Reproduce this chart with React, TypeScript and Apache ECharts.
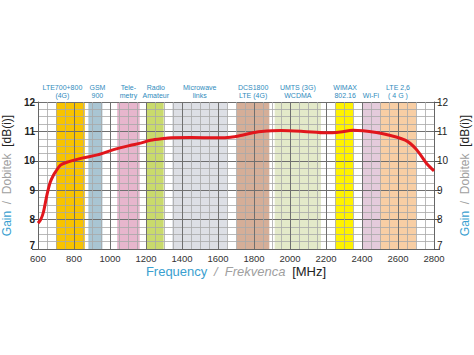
import React, { useEffect, useRef } from "react";
import * as echarts from "echarts";

const freqTicks = [600, 800, 1000, 1200, 1400, 1600, 1800, 2000, 2200, 2400, 2600, 2800];
const gainTicks = [7, 8, 9, 10, 11, 12];

const bandLabels = [
  "LTE700+800\n(4G)",
  "GSM\n900",
  "Tele-\nmetry",
  "Radio\nAmateur",
  "Microwave\nlinks",
  "DCS1800\nLTE (4G)",
  "UMTS (3G)\nWCDMA",
  "WIMAX\n802.16",
  "Wi-Fi",
  "LTE 2,6\n( 4 G )",
];
const bandStart = [700, 880, 1040, 1200, 1345, 1705, 1915, 2252, 2400, 2500];
const bandEnd = [860, 958, 1165, 1298, 1652, 1885, 2172, 2350, 2500, 2700];
const bandColors = [
  "#f8c300",
  "#a9c5d3",
  "#e7b6cd",
  "#c9da6c",
  "#dddfe5",
  "#d5ae98",
  "#e3e9c9",
  "#fff200",
  "#e4cbdb",
  "#f8cea4",
];
// horizontal nudges (px) of the band captions
const labelShift = [-8, 2, 0, 1, 0, 0, 0, 1, 0, 0];

const curveFreq = [600, 615, 630, 650, 668, 685, 700, 725, 760, 800, 850, 930, 1020, 1110, 1170, 1225, 1300, 1340, 1450, 1600, 1670, 1740, 1800, 1840, 1950, 2075, 2200, 2280, 2350, 2480, 2590, 2640, 2670, 2700, 2725, 2760, 2800];
const curveGain = [7.88, 8.0, 8.25, 8.85, 9.27, 9.5, 9.65, 9.85, 9.95, 10.02, 10.1, 10.2, 10.38, 10.52, 10.6, 10.7, 10.76, 10.78, 10.79, 10.78, 10.8, 10.88, 10.96, 11.0, 11.03, 11.0, 10.95, 10.98, 11.04, 10.96, 10.81, 10.7, 10.58, 10.4, 10.2, 9.9, 9.66];

const FONT = "Liberation Sans, Arial, sans-serif";

export default function App() {
  const ref = useRef<HTMLDivElement>(null);
  useEffect(() => {
    document.body.style.margin = "0";
    const chart = echarts.init(ref.current!, null, { renderer: "svg" });
    const rich = {
      a: { color: "#3a9fd0", fontSize: 12, fontFamily: FONT },
      b: { color: "#a0a0a0", fontSize: 12, fontFamily: FONT },
      c: { color: "#222", fontSize: 12, fontFamily: FONT },
    };
    const yLabelFmt = (v: number) => (v === gainTicks[0] ? "{lo|" + v + "}" : String(v));
    const yCommon = {
      type: "value",
      min: gainTicks[0],
      max: gainTicks[gainTicks.length - 1],
      interval: 1,
      nameLocation: "middle",
      nameRotate: 90,
      name: "{a|Gain}  {b|/  Dobitek}  {c|[dB(i)]}",
      nameTextStyle: { rich },
      axisLine: { show: true, lineStyle: { color: "#666", width: 1 } },
      axisTick: { show: true, inside: false, length: 6, lineStyle: { color: "#555" } },
    };
    chart.setOption({
      animation: false,
      backgroundColor: "#fff",
      grid: {
        left: 38,
        right: 40,
        top: 102,
        bottom: 106,
        containLabel: false,
        outerBoundsMode: "none",
      },
      xAxis: {
        type: "value",
        min: freqTicks[0],
        max: freqTicks[freqTicks.length - 1],
        interval: 200,
        z: 5,
        name: "{a|Frequency}  {b|/  Frekvenca}  {c|[MHz]}",
        nameLocation: "middle",
        nameGap: 16,
        nameTextStyle: {
          rich: {
            a: { color: "#3a9fd0", fontSize: 13, fontFamily: FONT },
            b: { color: "#a0a0a0", fontSize: 13, fontStyle: "italic", fontFamily: FONT },
            c: { color: "#222", fontSize: 13, fontFamily: FONT },
          },
        },
        axisLine: { show: true, lineStyle: { color: "#666" } },
        axisTick: { show: false },
        axisLabel: {
          color: "#333",
          fontSize: 9.5,
          fontFamily: FONT,
          margin: 4,
          formatter: (v: number) => String(v),
        },
        splitLine: { show: true, lineStyle: { color: "#6f6f6f", width: 1 } },
        minorTick: { show: false, splitNumber: 4 },
        minorSplitLine: { show: true, lineStyle: { color: "#a8a8a8", width: 0.8 } },
      },
      yAxis: [
        {
          ...yCommon,
          position: "left",
          nameGap: 17,
          z: 5,
          axisLabel: {
            color: "#222",
            fontSize: 10,
            fontWeight: "bold",
            fontFamily: FONT,
            margin: 3,
            formatter: yLabelFmt,
            rich: { lo: { fontSize: 10, fontWeight: "bold", fontFamily: FONT, color: "#222", padding: [0, 0, 7, 0] } },
          },
          splitLine: { show: true, lineStyle: { color: "#6f6f6f", width: 1 } },
          minorTick: { show: false, splitNumber: 4 },
          minorSplitLine: { show: true, lineStyle: { color: "#a8a8a8", width: 0.8 } },
        },
        {
          ...yCommon,
          position: "right",
          nameGap: 19,
          z: 5,
          axisLabel: {
            color: "#222",
            fontSize: 10,
            fontFamily: FONT,
            margin: 3,
            formatter: yLabelFmt,
            rich: { lo: { fontSize: 10, fontFamily: FONT, color: "#222", padding: [0, 0, 7, 0] } },
          },
          splitLine: { show: false },
        },
      ],
      series: [
        {
          type: "line",
          data: [],
          z: 1,
          silent: true,
          markArea: {
            silent: true,
            data: bandLabels.map((name, i) => [
              {
                name,
                xAxis: bandStart[i],
                yAxis: gainTicks[0],
                itemStyle: { color: bandColors[i], opacity: 1 },
                label: { offset: [labelShift[i], 0] },
              },
              { xAxis: bandEnd[i], yAxis: gainTicks[gainTicks.length - 1] },
            ]),
            label: {
              show: true,
              position: "top",
              distance: 3,
              color: "#2f8bbd",
              fontSize: 7,
              lineHeight: 7.5,
              fontFamily: FONT,
              align: "center",
            },
          },
        },
        {
          type: "line",
          z: 10,
          smooth: 0.3,
          symbol: "none",
          lineStyle: { color: "#e1161c", width: 3 },
          data: curveFreq.map((f, i) => [f, curveGain[i]]),
        },
      ],
    });
    return () => chart.dispose();
  }, []);
  return (
    <div
      ref={ref}
      style={{ position: "absolute", left: 0, top: 0, width: 474, height: 355 }}
    />
  );
}
